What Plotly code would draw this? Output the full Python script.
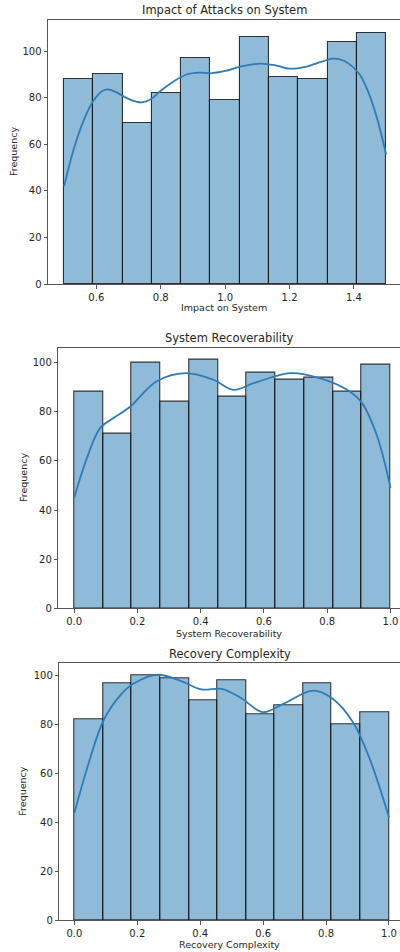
import numpy as np
import plotly.graph_objects as go

# ---------------- data ----------------
titles = ["Impact of Attacks on System", "System Recoverability", "Recovery Complexity"]
xlabels = ["Impact on System", "System Recoverability", "Recovery Complexity"]

impact_range = [0.5, 1.5]
impact_counts = [88, 90, 69, 82, 97, 79, 106, 89, 88, 104, 108]
impact_kde_x = [0.50, 0.53, 0.56, 0.59, 0.62, 0.635, 0.66, 0.70, 0.74, 0.77, 0.80, 0.84, 0.88, 0.92,
                0.955, 1.00, 1.05, 1.11, 1.16, 1.20, 1.25, 1.30, 1.335, 1.37, 1.415, 1.44, 1.47, 1.50]
impact_kde_y = [42, 58, 70, 78.5, 83, 83.6, 82.5, 79.5, 78, 79.5, 83, 87, 90, 90.8,
                90.5, 91.5, 93.5, 94.7, 93.8, 92.5, 93.3, 95.5, 96.8, 95.8, 90.5, 84, 72, 55.6]

recov_range = [0.0, 1.0]
recov_counts = [88, 71, 100, 84, 101, 86, 96, 93, 94, 88, 99]
recov_kde_x = [0.0, 0.04, 0.082, 0.124, 0.177, 0.26, 0.352, 0.44, 0.504, 0.567, 0.684,
               0.778, 0.863, 0.91, 0.958, 1.0]
recov_kde_y = [44.8, 61, 73.3, 77.4, 82, 92.3, 95.7, 93, 88.9, 91.6, 95.7,
               93.6, 88.9, 83.5, 69.9, 49]

compl_range = [0.0, 1.0]
compl_counts = [82, 97, 100, 99, 90, 98, 84, 88, 97, 80, 85]
compl_kde_x = [0.0, 0.045, 0.092, 0.145, 0.187, 0.262, 0.336, 0.404, 0.468, 0.526, 0.60,
               0.664, 0.759, 0.822, 0.886, 0.939, 1.0]
compl_kde_y = [43.8, 64, 81.5, 91.8, 96.6, 100.3, 97.9, 94.3, 94.5, 91.1, 85,
               88.4, 93.8, 90.4, 80.8, 65.8, 42]

xtick_vals = [[0.6, 0.8, 1.0, 1.2, 1.4],
              [0.0, 0.2, 0.4, 0.6, 0.8, 1.0],
              [0.0, 0.2, 0.4, 0.6, 0.8, 1.0]]
xtick_text = [["0.6", "0.8", "1.0", "1.2", "1.4"],
              ["0.0", "0.2", "0.4", "0.6", "0.8", "1.0"],
              ["0.0", "0.2", "0.4", "0.6", "0.8", "1.0"]]
ytick_vals = [0, 20, 40, 60, 80, 100]

# ---------------- layout geometry ----------------
W, H = 400, 952
panels = [
    dict(left=48, top=20, bottom=284, xr=[0.45, 1.543], ymax=113.4,
         ylab_x=13, xlab_y=308, title_y=10),
    dict(left=58.3, top=347.7, bottom=608.3, xr=[-0.05, 1.03], ymax=106.05,
         ylab_x=23, xlab_y=633, title_y=338),
    dict(left=59.3, top=663.3, bottom=920, xr=[-0.048, 1.035], ymax=105,
         ylab_x=23, xlab_y=944, title_y=654),
]
series = [(impact_range, impact_counts, impact_kde_x, impact_kde_y),
          (recov_range, recov_counts, recov_kde_x, recov_kde_y),
          (compl_range, compl_counts, compl_kde_x, compl_kde_y)]

FONT = "DejaVu Sans"
TXT = "#262626"
BAR_FILL = "rgba(31,119,180,0.5)"
BAR_EDGE = "rgba(20,20,20,0.85)"
KDE = "#2f7bb6"

fig = go.Figure()
annotations = []
layout_axes = {}

for i, (p, (rng, counts, kx, ky)) in enumerate(zip(panels, series)):
    n = len(counts)
    edges = np.linspace(rng[0], rng[1], n + 1)
    centers = (edges[:-1] + edges[1:]) / 2
    width = edges[1] - edges[0]
    xa = "x" if i == 0 else f"x{i+1}"
    ya = "y" if i == 0 else f"y{i+1}"
    fig.add_trace(go.Bar(x=centers, y=counts, width=width, xaxis=xa, yaxis=ya,
                         marker=dict(color=BAR_FILL, line=dict(color=BAR_EDGE, width=1.1)),
                         showlegend=False, hoverinfo="skip"))
    fig.add_trace(go.Scatter(x=kx, y=ky, xaxis=xa, yaxis=ya, mode="lines",
                             line=dict(color=KDE, width=1.8, shape="spline", smoothing=1.0),
                             showlegend=False, hoverinfo="skip"))
    xkey = "xaxis" if i == 0 else f"xaxis{i+1}"
    ykey = "yaxis" if i == 0 else f"yaxis{i+1}"
    layout_axes[xkey] = dict(
        domain=[p["left"] / W, 1.0], range=p["xr"], anchor=ya, automargin=False,
        tickvals=xtick_vals[i], ticktext=xtick_text[i],
        showgrid=False, zeroline=False, showline=True, mirror=True,
        linecolor="#555", linewidth=1, ticks="outside", ticklen=3.5, tickcolor="#555",
        tickfont=dict(family=FONT, size=10, color=TXT))
    layout_axes[ykey] = dict(
        domain=[1 - p["bottom"] / H, 1 - p["top"] / H], range=[0, p["ymax"]], anchor=xa,
        automargin=False,
        tickvals=ytick_vals, showgrid=False, zeroline=False, showline=True,
        linecolor="#555", linewidth=1, ticks="outside", ticklen=3.5, tickcolor="#555",
        tickfont=dict(family=FONT, size=10, color=TXT))
    annotations.append(dict(text=titles[i], x=(p["left"] + 400) / 2 / W, y=1 - p["title_y"] / H,
                            xref="paper", yref="paper", showarrow=False,
                            xanchor="center", yanchor="middle",
                            font=dict(family=FONT, size=11.5, color=TXT)))
    annotations.append(dict(text=xlabels[i], x=(p["left"] + 400) / 2 / W, y=1 - p["xlab_y"] / H,
                            xref="paper", yref="paper", showarrow=False,
                            xanchor="center", yanchor="middle",
                            font=dict(family=FONT, size=9.5, color=TXT)))
    annotations.append(dict(text="Frequency", x=p["ylab_x"] / W,
                            y=1 - (p["top"] + p["bottom"]) / 2 / H,
                            xref="paper", yref="paper", showarrow=False, textangle=-90,
                            xanchor="center", yanchor="middle",
                            font=dict(family=FONT, size=9.5, color=TXT)))

fig.update_layout(width=W, height=H, margin=dict(l=0, r=0, t=0, b=0, autoexpand=False),
                  paper_bgcolor="white", plot_bgcolor="white", bargap=0,
                  annotations=annotations, **layout_axes)

fig.write_html("out.html", config={"displayModeBar": False},
               post_script="document.body.style.margin='0';document.body.style.overflow='hidden';")
